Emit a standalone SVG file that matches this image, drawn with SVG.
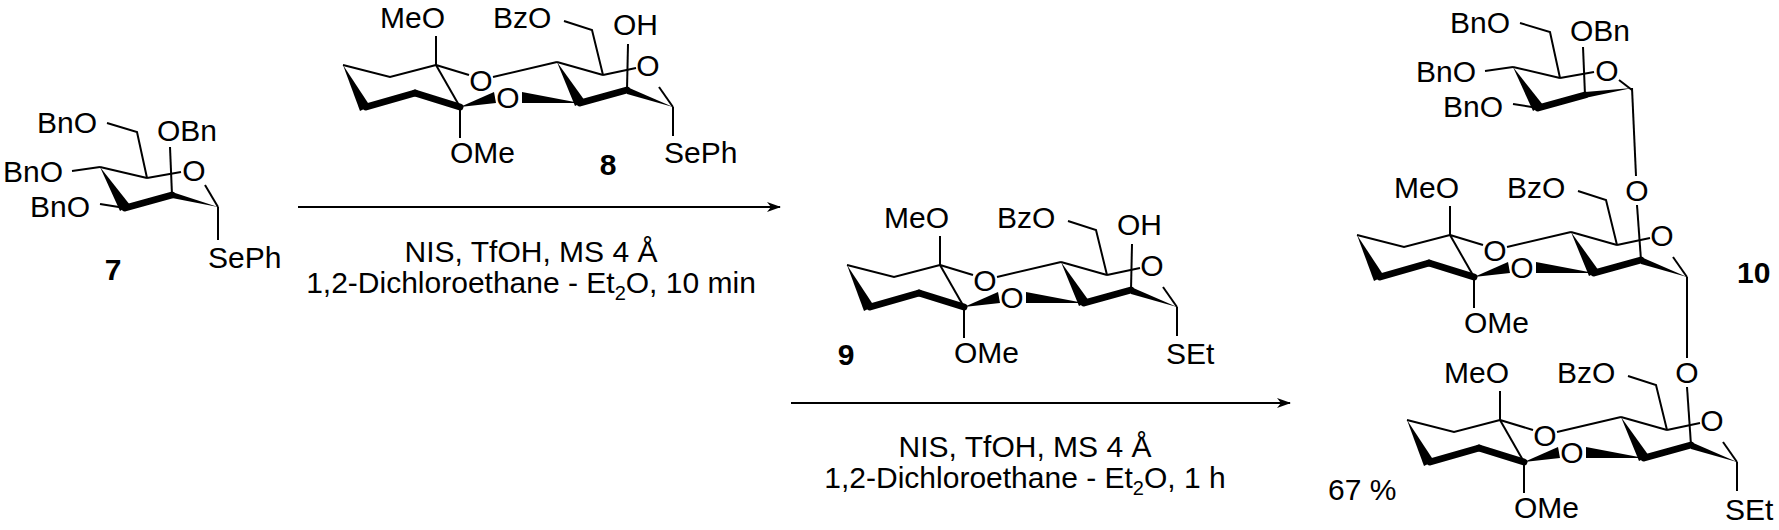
<svg xmlns="http://www.w3.org/2000/svg" xmlns:xlink="http://www.w3.org/1999/xlink" width="1779" height="530" viewBox="0 0 1779 530">
<style>
text{font-family:"Liberation Sans",Arial,sans-serif;font-size:30px;fill:#000}
.c{text-anchor:middle}
.b{font-weight:bold}
.r{text-anchor:middle}
line,polyline{stroke:#000;stroke-width:2;fill:none}
.k{stroke-width:7;stroke-linecap:round}
.w{fill:#000;stroke:none}
</style>
<defs>
<marker id="ah" markerWidth="14" markerHeight="10" refX="13" refY="5" orient="auto" markerUnits="userSpaceOnUse"><path d="M0,0 L14,5 L0,10 L4,5 z" fill="#000"/></marker>
<g id="bda">
<polyline points="343,65 390,77 436,65"/>
<line x1="436" y1="36" x2="436" y2="65"/>
<line x1="436" y1="65" x2="469" y2="75"/>
<line x1="436" y1="65" x2="460" y2="107"/>
<line x1="460" y1="107" x2="460" y2="138"/>
<line x1="493" y1="77" x2="557" y2="62"/>
<line x1="557" y1="62" x2="603" y2="75"/>
<line x1="603" y1="75" x2="636" y2="68"/>
<polyline points="603,75 592,30 564,21"/>
<line x1="659" y1="87" x2="673" y2="107"/>
<polygon class="w" points="343,65 360,111 370,106"/>
<line class="k" x1="366" y1="107" x2="415" y2="93"/>
<line class="k" x1="415" y1="93" x2="460" y2="107"/>
<polygon class="w" points="460,107 494,92 496,103"/>
<polygon class="w" points="522,92 522,103 580,103"/>
<polygon class="w" points="557,62 575,106 585,101"/>
<line class="k" x1="580" y1="103" x2="627" y2="90"/>
<polygon class="w" points="627,87 627,94 673,107"/>
<text x="380" y="28">MeO</text>
<text x="450" y="163">OMe</text>
<text class="c" x="481" y="91">O</text>
<text class="c" x="508" y="108">O</text>
<text class="c" x="648" y="76">O</text>
<text x="493" y="28">BzO</text>
</g>
<g id="man">
<polyline points="107,123 137,132 147,178"/>
<line x1="100" y1="167" x2="147" y2="178"/>
<line x1="147" y1="178" x2="181" y2="172"/>
<line x1="170" y1="147" x2="172" y2="195"/>
<line x1="72" y1="171" x2="100" y2="167"/>
<line x1="100" y1="204" x2="125" y2="208"/>
<polygon class="w" points="100,167 120,211 130,205"/>
<line class="k" x1="125" y1="208" x2="172" y2="195"/>
<text x="37" y="133">BnO</text>
<text x="157" y="141">OBn</text>
<text class="c" x="194" y="181">O</text>
<text x="3" y="182">BnO</text>
<text x="30" y="217">BnO</text>
</g>
</defs>

<g id="connectors">
<line x1="298" y1="207" x2="780" y2="207" marker-end="url(#ah)"/>
<line x1="791" y1="403" x2="1290" y2="403" marker-end="url(#ah)"/>
</g>

<g id="reagents1">
<text class="r" x="531" y="262">NIS, TfOH, MS 4 Å</text>
<text class="r" x="531" y="293">1,2-Dichloroethane - Et<tspan font-size="20" dy="7">2</tspan><tspan dy="-7">O, 10 min</tspan></text>
</g>
<g id="reagents2">
<text class="r" x="1025" y="457">NIS, TfOH, MS 4 Å</text>
<text class="r" x="1025" y="488">1,2-Dichloroethane - Et<tspan font-size="20" dy="7">2</tspan><tspan dy="-7">O, 1 h</tspan></text>
<text x="1328" y="500">67 %</text>
</g>

<g id="compound7">
<use xlink:href="#man"/>
<line x1="205" y1="185" x2="218" y2="207"/>
<polygon class="w" points="172,192 172,198 218,207"/>
<line x1="218" y1="207" x2="218" y2="240"/>
<text x="208" y="268">SePh</text>
<text class="c b" x="113" y="280">7</text>
</g>

<g id="compound8">
<use xlink:href="#bda"/>
<line x1="627" y1="90" x2="628" y2="44"/>
<text x="613" y="35">OH</text>
<line x1="673" y1="107" x2="673" y2="136"/>
<text x="664" y="163">SePh</text>
<text class="c b" x="608" y="175">8</text>
</g>

<g id="compound9">
<use xlink:href="#bda" transform="translate(504,200)"/>
<line x1="1131" y1="290" x2="1132" y2="244"/>
<text x="1117" y="235">OH</text>
<line x1="1177" y1="307" x2="1177" y2="336"/>
<text x="1166" y="364">SEt</text>
<text class="c b" x="846" y="365">9</text>
</g>

<g id="compound10">
<use xlink:href="#man" transform="translate(1413,-100)"/>
<line x1="1619" y1="80" x2="1632" y2="90"/>
<polygon class="w" points="1585,92 1585,98 1632,88"/>
<line x1="1632" y1="88" x2="1636" y2="176"/>
<text class="c" x="1637" y="201">O</text>
<use xlink:href="#bda" transform="translate(1014,170)"/>
<line x1="1637" y1="205" x2="1641" y2="260"/>
<line x1="1687" y1="277" x2="1687" y2="358"/>
<text class="c" x="1687" y="383">O</text>
<use xlink:href="#bda" transform="translate(1064,355)"/>
<line x1="1687" y1="387" x2="1691" y2="445"/>
<line x1="1737" y1="462" x2="1737" y2="491"/>
<text x="1725" y="520">SEt</text>
<text class="b" x="1737" y="283">10</text>
</g>
</svg>
